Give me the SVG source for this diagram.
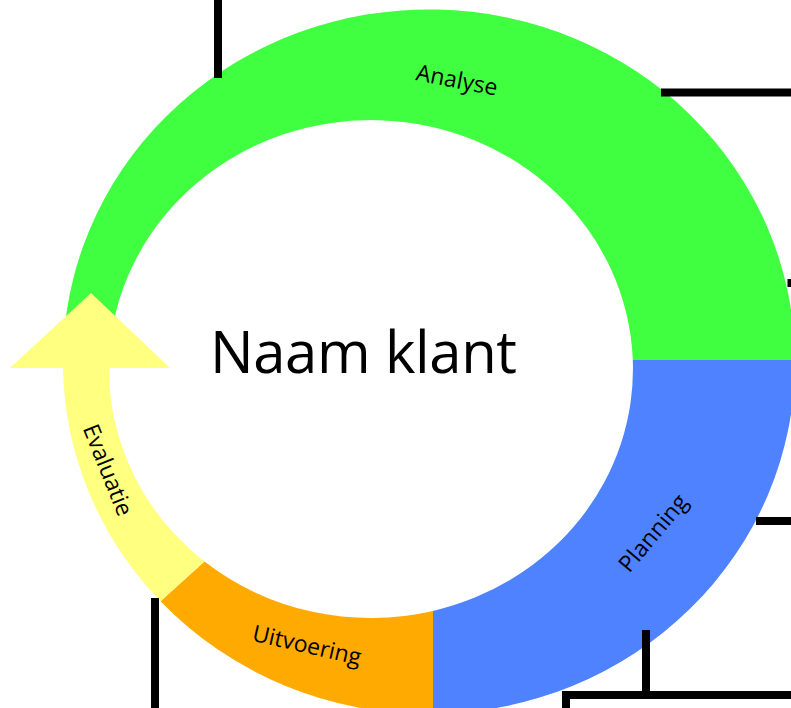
<svg xmlns="http://www.w3.org/2000/svg" width="791" height="708" viewBox="0 0 791 708">
<style>
.lbl{font-family:"Open Sans","Liberation Sans",sans-serif;font-size:23px;fill:#000;text-anchor:middle}
.title{font-family:"Open Sans","Liberation Sans",sans-serif;font-size:58px;fill:#000;text-anchor:middle}
.conn{stroke:#000;stroke-width:8;fill:none}
</style>
<rect width="791" height="708" fill="#fff"/>
<g id="analyse">
<path d="M 795,360 A 366 352 0 0 0 63.4,345 L 110.2,345 A 262 249 0 0 1 632.8,360 Z" fill="#40FF40"/>
<text class="lbl" transform="translate(457,80) rotate(11)" dy="0.35em">Analyse</text>
</g>
<g id="planning">
<path d="M 795,360 A 366 352 0 0 1 433,714 L 433,610.9 A 262 249 0 0 0 632.8,360 Z" fill="#4F82FF"/>
<text class="lbl" transform="translate(653,533) rotate(-50)" dy="0.35em">Planning</text>
</g>
<g id="uitvoering">
<path d="M 433,714 A 366 352 0 0 1 160.5,601.3 L 204.5,561.5 A 262 249 0 0 0 433,610.9 Z" fill="#FFAA00"/>
<text class="lbl" transform="translate(307,645) rotate(13)" dy="0.35em">Uitvoering</text>
</g>
<g id="evaluatie">
<path d="M 160.5,601.3 A 366 352 0 0 1 63,368 L 10,368 L 91,293 L 170,368 L 109,368 A 262 249 0 0 0 204.5,561.5 Z" fill="#FFFF80"/>
<text class="lbl" transform="translate(108,470) rotate(68)" dy="0.35em">Evaluatie</text>
</g>
<g id="center">
<text class="title" x="363.5" y="373" textLength="307">Naam klant</text>
</g>
<g id="connectors">
<line class="conn" x1="218" y1="0" x2="218" y2="78"/>
<line class="conn" x1="661" y1="92.5" x2="791" y2="92.5"/>
<line class="conn" x1="787.5" y1="283" x2="791" y2="283"/>
<line class="conn" x1="756" y1="521" x2="791" y2="521"/>
<line class="conn" x1="646" y1="630" x2="646" y2="695"/>
<polyline class="conn" points="566,708 566,695 791,695"/>
<line class="conn" x1="155" y1="598" x2="155" y2="708"/>
</g>
</svg>
